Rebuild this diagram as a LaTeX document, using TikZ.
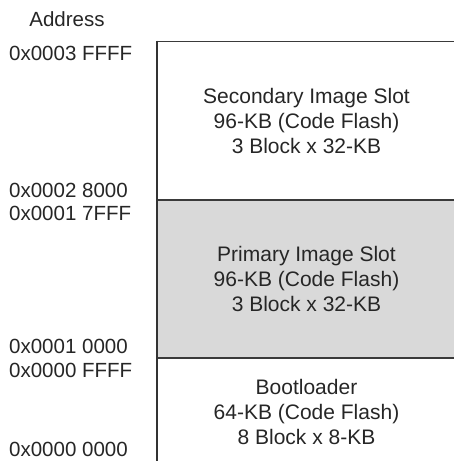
\documentclass[tikz,border=0pt]{standalone}
\usepackage{fontspec}
\setmainfont{Liberation Sans}
\definecolor{slotgray}{HTML}{D9D9D9}
\definecolor{linegray}{HTML}{3A3A3A}
\begin{document}
\begin{tikzpicture}[x=1pt,y=-1pt,
  addr/.style={anchor=base west,inner sep=0pt,font=\fontsize{20.5}{24}\selectfont,text=black!85},
  slottext/.style={align=center,inner sep=0pt,font=\fontsize{21}{25}\selectfont,text=black!85},
  sep/.style={draw=linegray,line width=1.6pt}]
\useasboundingbox (0,0) rectangle (454,461);
% regions
\fill[slotgray] (157,200) rectangle (454,358);
\draw[sep] (157,41.5) -- (454,41.5);
\draw[sep] (157,200) -- (454,200);
\draw[sep] (157,358) -- (454,358);
\draw[draw=black!80,line width=2pt] (157,40.7) -- (157,461);
% slot labels
\node[slottext] (sec) at (306.5,120.5) {Secondary Image Slot\\96-KB (Code Flash)\\3 Block x 32-KB};
\node[slottext] (pri) at (306.5,278.5) {Primary Image Slot\\96-KB (Code Flash)\\3 Block x 32-KB};
\node[slottext] (boot) at (306.5,412) {Bootloader\\64-KB (Code Flash)\\8 Block x 8-KB};
% address labels
\node[addr,anchor=base] (hdr) at (67,26) {Address};
\node[addr] (a1) at (9,60) {0x0003 FFFF};
\node[addr] (a2) at (9,197) {0x0002 8000};
\node[addr] (a3) at (9,220) {0x0001 7FFF};
\node[addr] (a4) at (9,353) {0x0001 0000};
\node[addr] (a5) at (9,377) {0x0000 FFFF};
\node[addr] (a6) at (9,456.5) {0x0000 0000};
\end{tikzpicture}
\end{document}
